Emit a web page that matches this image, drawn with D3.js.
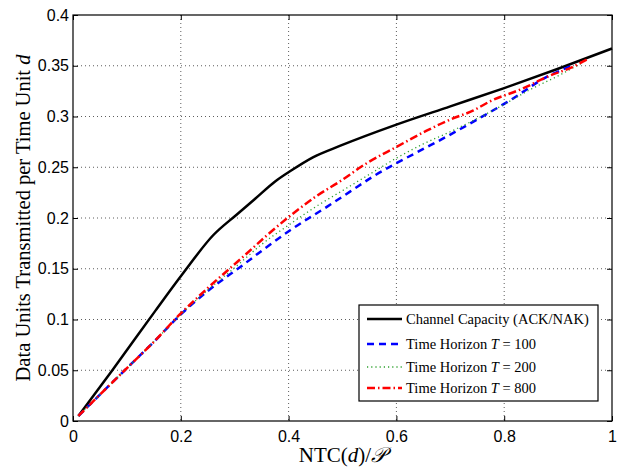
<!DOCTYPE html>
<html>
<head>
<meta charset="utf-8">
<script src="https://cdn.jsdelivr.net/npm/d3@7"></script>
<style>
  body { margin: 0; background: #fff; }
  svg { display: block; }
  .tick text { font-family: "Liberation Sans", Arial, sans-serif; }
</style>
</head>
<body>
<div id="chart"></div>
<script>
// ---- data ----
var capX = [0.01, 0.073, 0.152, 0.2035, 0.26, 0.304, 0.338, 0.375, 0.404, 0.446, 0.495, 0.6, 0.7, 0.8, 0.9, 1.0];
var capY = [0.005, 0.05, 0.108, 0.145, 0.183, 0.2035, 0.219, 0.236, 0.2465, 0.26, 0.271, 0.292, 0.31, 0.328, 0.347, 0.367];

var t100X = [0.01, 0.05, 0.096, 0.15, 0.2, 0.25, 0.316, 0.356, 0.403, 0.471, 0.514, 0.557, 0.6, 0.65, 0.696, 0.743, 0.811, 0.879, 0.93];
var t100Y = [0.005, 0.026, 0.05, 0.078, 0.105, 0.128, 0.154, 0.17, 0.188, 0.211, 0.226, 0.241, 0.254, 0.268, 0.281, 0.295, 0.316, 0.339, 0.351];

var t200X = [0.01, 0.05, 0.096, 0.15, 0.2, 0.25, 0.3, 0.35, 0.4, 0.45, 0.5, 0.55, 0.6, 0.65, 0.7, 0.75, 0.8, 0.85, 0.9, 0.945];
var t200Y = [0.005, 0.026, 0.05, 0.078, 0.105, 0.129, 0.151, 0.174, 0.193, 0.211, 0.227, 0.243, 0.259, 0.273, 0.285, 0.298, 0.312, 0.327, 0.34, 0.353];

var t800X = [0.01, 0.05, 0.096, 0.15, 0.2, 0.25, 0.316, 0.36, 0.412, 0.45, 0.495, 0.545, 0.6, 0.656, 0.7, 0.743, 0.774, 0.832, 0.888, 0.919, 0.953];
var t800Y = [0.005, 0.026, 0.05, 0.078, 0.106, 0.131, 0.162, 0.183, 0.206, 0.221, 0.236, 0.254, 0.27, 0.286, 0.297, 0.306, 0.315, 0.327, 0.341, 0.347, 0.356];

var xTicks = [0, 0.2, 0.4, 0.6, 0.8, 1];
var yTicks = [0, 0.05, 0.1, 0.15, 0.2, 0.25, 0.3, 0.35, 0.4];
var xTickLabels = ["0", "0.2", "0.4", "0.6", "0.8", "1"];
var yTickLabels = ["0", "0.05", "0.1", "0.15", "0.2", "0.25", "0.3", "0.35", "0.4"];

var legendLabels = ["Channel Capacity (ACK/NAK)", "Time Horizon ", "Time Horizon ", "Time Horizon "];
var legendT = ["", "100", "200", "800"];

// ---- layout ----
var W = 619, H = 471;
var margin = {top: 15, right: 7, bottom: 50, left: 73};
var width = W - margin.left - margin.right,
    height = H - margin.top - margin.bottom;

var svg = d3.select("#chart").append("svg")
    .attr("width", W)
    .attr("height", H);

var g = svg.append("g")
    .attr("transform", "translate(" + margin.left + "," + margin.top + ")");

var x = d3.scaleLinear().domain([0, 1]).range([0, width]);
var y = d3.scaleLinear().domain([0, 0.4]).range([height, 0]);

// grid (dotted, matlab style)
g.selectAll("xgrid")
  .data(xTicks.slice(1, -1))
  .enter().append("line")
    .attr("x1", function(d) { return x(d); })
    .attr("x2", function(d) { return x(d); })
    .attr("y1", 0).attr("y2", height)
    .attr("stroke", "#333")
    .attr("stroke-width", 0.8)
    .attr("stroke-dasharray", "1,3");
g.selectAll("ygrid")
  .data(yTicks.slice(1, -1))
  .enter().append("line")
    .attr("y1", function(d) { return y(d); })
    .attr("y2", function(d) { return y(d); })
    .attr("x1", 0).attr("x2", width)
    .attr("stroke", "#333")
    .attr("stroke-width", 0.8)
    .attr("stroke-dasharray", "1,3");

// axes
var xAxis = d3.axisBottom(x).tickValues(xTicks)
    .tickFormat(function(d, i) { return xTickLabels[i]; })
    .tickSizeInner(-5).tickSizeOuter(0).tickPadding(10);
var yAxis = d3.axisLeft(y).tickValues(yTicks)
    .tickFormat(function(d, i) { return yTickLabels[i]; })
    .tickSizeInner(-5).tickSizeOuter(0).tickPadding(4);

g.append("g").attr("transform", "translate(0," + height + ")").call(xAxis)
  .call(function(s) { s.select(".domain").remove(); })
  .selectAll("text").style("font-size", "16px").attr("fill", "#000");
g.append("g").call(yAxis)
  .call(function(s) { s.select(".domain").remove(); })
  .selectAll("text").style("font-size", "16px").attr("fill", "#000");

// mirrored ticks on top and right
g.append("g").call(d3.axisTop(x).tickValues(xTicks).tickSizeInner(-5).tickSizeOuter(0).tickFormat(""))
  .call(function(s) { s.select(".domain").remove(); });
g.append("g").attr("transform", "translate(" + width + ",0)")
  .call(d3.axisRight(y).tickValues(yTicks).tickSizeInner(-5).tickSizeOuter(0).tickFormat(""))
  .call(function(s) { s.select(".domain").remove(); });

// curves
var line = d3.line()
    .curve(d3.curveMonotoneX)
    .x(function(d) { return x(d[0]); })
    .y(function(d) { return y(d[1]); });

function pairs(xs, ys) { return xs.map(function(v, i) { return [v, ys[i]]; }); }

var series = [
  {data: pairs(capX, capY), color: "#000", w: 2.5, dash: null},
  {data: pairs(t100X, t100Y), color: "#0000ff", w: 2.5, dash: "7,5"},
  {data: pairs(t200X, t200Y), color: "#2ca02c", w: 1.3, dash: "1.2,3"},
  {data: pairs(t800X, t800Y), color: "#ff0000", w: 2.5, dash: "8,3,1.5,3"}
];

// draw order: capacity, 100, 200, 800 on top
series.forEach(function(s) {
  g.append("path")
    .datum(s.data)
    .attr("d", line)
    .attr("fill", "none")
    .attr("stroke", s.color)
    .attr("stroke-width", s.w)
    .attr("stroke-dasharray", s.dash);
});

// frame
g.append("rect")
  .attr("x", 0).attr("y", 0)
  .attr("width", width).attr("height", height)
  .attr("fill", "none").attr("stroke", "#000").attr("stroke-width", 1.2);

// legend
var lx = 359 - margin.left, ly = 305 - margin.top;
var leg = g.append("g").attr("transform", "translate(" + lx + "," + ly + ")");
leg.append("rect")
  .attr("width", 239).attr("height", 96)
  .attr("fill", "#fff").attr("stroke", "#000").attr("stroke-width", 1.2);
var rowY = [14, 39, 62, 83];
series.forEach(function(s, i) {
  leg.append("line")
    .attr("x1", 8).attr("x2", 43)
    .attr("y1", rowY[i]).attr("y2", rowY[i])
    .attr("stroke", s.color)
    .attr("stroke-width", s.w)
    .attr("stroke-dasharray", s.dash);
  var t = leg.append("text")
    .attr("x", 47).attr("y", rowY[i] + 5)
    .style("font-family", "'Liberation Serif', 'DejaVu Serif', serif")
    .style("font-size", "14.5px")
    .attr("fill", "#000")
    .text(legendLabels[i]);
  if (legendT[i]) {
    t.append("tspan").style("font-style", "italic").text("T");
    t.append("tspan").text(" = " + legendT[i]);
  }
});

// axis titles
var xl = svg.append("text")
  .attr("x", margin.left + width / 2)
  .attr("y", 462)
  .attr("text-anchor", "middle")
  .style("font-family", "'Liberation Serif', 'DejaVu Serif', serif")
  .style("font-size", "21px")
  .attr("fill", "#000")
  .text("NTC(");
xl.append("tspan").style("font-style", "italic").text("d");
xl.append("tspan").text(")/");
xl.append("tspan").style("font-family", "'DejaVu Sans', 'Noto Sans', serif").style("font-style", "italic").text("\uD835\uDCAB");

var yl = svg.append("text")
  .attr("transform", "translate(30," + (margin.top + height / 2) + ") rotate(-90)")
  .attr("text-anchor", "middle")
  .style("font-family", "'Liberation Serif', 'DejaVu Serif', serif")
  .style("font-size", "20.5px")
  .attr("fill", "#000")
  .text("Data Units Transmitted per Time Unit ");
yl.append("tspan").style("font-style", "italic").text("d");
</script>
</body>
</html>
